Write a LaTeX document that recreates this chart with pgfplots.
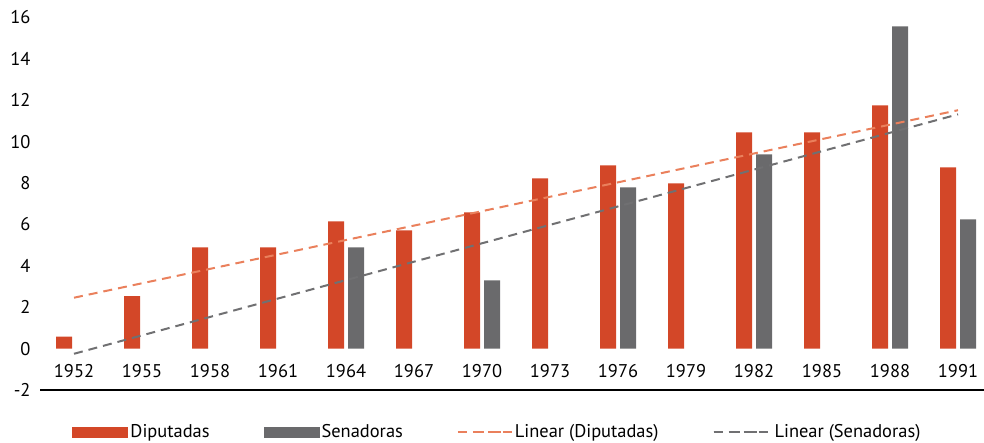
\documentclass[border=0pt]{standalone}
\usepackage{pgfplots}
\pgfplotsset{compat=1.18}
\usepackage{fontspec}
\setmainfont{PT Sans}
\usetikzlibrary{calc}
\definecolor{dip}{RGB}{211,71,40}
\definecolor{sen}{RGB}{106,106,108}
\definecolor{diptr}{RGB}{234,128,92}
\definecolor{sentr}{RGB}{112,112,114}
\begin{document}
\begin{tikzpicture}
\begin{axis}[name=ax, scale only axis, width=944bp, height=372.5bp,
  xmin=-0.5, xmax=13.382, ymin=-2, ymax=16,
  xtick={0,...,13},
  xticklabels={1952,1955,1958,1961,1964,1967,1970,1973,1976,1979,1982,1985,1988,1991},
  ytick={-2,0,2,4,6,8,10,12,14,16},
  axis line style={draw=none}, major tick length=0pt,
  tick label style={font=\fontsize{18.5}{21}\selectfont},
  /pgf/number format/assume math mode=true,
  yticklabel style={anchor=east, xshift=-6bp},
  xticklabel style={anchor=center, yshift=18.5bp},
  legend columns=4,
  legend style={draw=none, fill=none, at={(0.4846,-0.1128)}, anchor=center,
    font=\fontsize{18.5}{21}\selectfont,
    /tikz/every even column/.append style={column sep=52bp}},
]
\addplot[ybar, bar width=16bp, bar shift=-10bp, fill=dip, draw=none,
  legend image code/.code={\fill[dip] (0bp,-5.5bp) rectangle (56bp,5.5bp);}]
  coordinates {(0,0.58) (1,2.54) (2,4.89) (3,4.89) (4,6.15) (5,5.71) (6,6.58) (7,8.23) (8,8.86) (9,7.99) (10,10.45) (11,10.45) (12,11.75) (13,8.76)};
\addlegendentry{Diputadas}
\addplot[ybar, bar width=16bp, bar shift=10bp, fill=sen, draw=none,
  legend image code/.code={\fill[sen] (0bp,-5.5bp) rectangle (56bp,5.5bp);}]
  coordinates {(4,4.89) (6,3.30) (8,7.79) (10,9.39) (12,15.57) (13,6.25)};
\addlegendentry{Senadoras}
\addplot[sharp plot, no marks, diptr, line width=2bp, dash pattern=on 9bp off 6bp,
  legend image code/.code={\draw[diptr, line width=2bp, dash pattern=on 9bp off 8bp] (0bp,0bp) -- (44bp,0bp); \path (0bp,0bp) -- (54bp,0bp);}]
  coordinates {(0,2.46) (13,11.52)};
\addlegendentry{Linear (Diputadas)}
\addplot[sharp plot, no marks, sentr, line width=2bp, dash pattern=on 9bp off 6bp,
  legend image code/.code={\draw[sentr, line width=2bp, dash pattern=on 9bp off 8bp] (0bp,0bp) -- (44bp,0bp); \path (0bp,0bp) -- (58bp,0bp);}]
  coordinates {(0,-0.25) (13,11.32)};
\addlegendentry{Linear (Senadoras)}
\draw[black, line width=1.2bp] (rel axis cs:0,0) -- (rel axis cs:1,0);
\end{axis}
\pgfresetboundingbox
\path ($(ax.south west)+(-40bp,-53bp)$) rectangle ($(ax.north east)+(0bp,17.5bp)$);
\end{tikzpicture}
\end{document}
